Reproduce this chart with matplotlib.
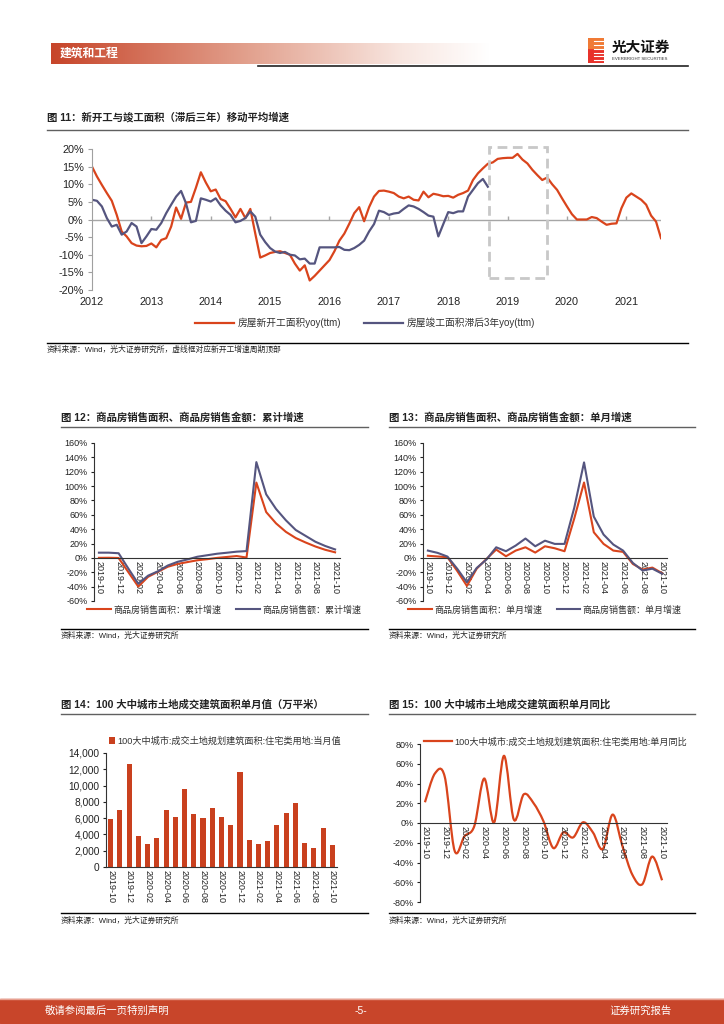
import numpy as np
import matplotlib
matplotlib.use('Agg')
import matplotlib.pyplot as plt
from matplotlib.path import Path
from matplotlib.patches import PathPatch, Rectangle
from matplotlib.lines import Line2D
from matplotlib.colors import LinearSegmentedColormap
from matplotlib.ticker import FuncFormatter

plt.rcParams['font.family'] = ['Liberation Sans', 'Noto Sans CJK SC']
plt.rcParams['axes.unicode_minus'] = False

RED = '#D9441C'
BLUE = '#55557F'
BAR = '#C9401E'

# ---- 图11 data: monthly, 2012-01 .. 2021-08 (new starts), 2012-01 .. 2018-09 (completions lagged 3y)
years = ['2012', '2013', '2014', '2015', '2016', '2017', '2018', '2019', '2020', '2021']
new_start = [15.0, 12.2, 9.8, 7.5, 5.3, 1.3, -3.4, -4.8, -6.7, -7.4, -7.6, -7.5,
             -6.8, -7.9, -5.8, -5.3, -2.0, 3.4, 0.2, 4.8, 5.0, 9.0, 13.4, 10.5,
             8.0, 8.5, 5.8, 5.2, 3.0, 0.6, 3.0, 0.4, 3.0, -4.0, -10.8, -10.2,
             -9.5, -9.2, -9.0, -9.5, -10.0, -12.5, -14.5, -13.0, -17.3, -16.0, -14.5, -13.0,
             -11.5, -9.0, -6.0, -4.0, -1.2, 1.8, 3.5, -0.5, 3.5, 6.5, 8.1, 8.2,
             7.9, 7.5, 6.5, 6.0, 6.5, 5.6, 5.4, 7.9, 6.3, 7.3, 7.0, 6.6,
             6.7, 6.2, 7.0, 7.5, 8.2, 11.2, 13.1, 14.5, 15.8, 16.2, 17.2, 17.4,
             17.5, 17.5, 18.6, 17.0, 15.9, 14.1, 12.6, 11.2, 11.9, 10.0, 8.4, 6.0,
             3.7, 1.5, 0.0, 0.0, 0.0, 0.7, 0.4, -0.6, -1.5, -1.2, -1.1, 3.2,
             6.2, 7.4, 6.5, 5.6, 4.2, 1.1, -0.6, -5.3]
completed_lag3 = [5.6, 5.3, 3.7, 0.4, -2.0, -1.5, -4.3, -3.4, -1.0, -2.0, -6.7, -4.8,
                  -2.7, -2.9, -1.0, 1.8, 4.2, 6.5, 8.1, 4.6, -0.8, -0.4, 6.0, 5.6,
                  5.1, 6.0, 4.0, 2.5, 1.3, -0.8, -0.4, 0.4, 2.3, 0.8, -4.3, -6.4,
                  -8.1, -9.1, -9.5, -9.2, -10.0, -10.2, -11.3, -11.1, -12.5, -12.5, -7.9, -7.9,
                  -7.9, -7.9, -7.8, -8.6, -8.7, -8.1, -7.2, -6.0, -3.4, -1.3, 2.5, 2.1,
                  1.3, 1.7, 1.9, 3.0, 4.0, 3.7, 3.0, 2.1, 1.1, 0.8, -4.8, -1.3,
                  2.1, 1.8, 2.3, 2.3, 6.5, 8.4, 10.3, 11.5, 9.3]
# dashed box: new-start cycle top (month index range, % range)
box_months = [80.3, 91.9]
box_pct = [-16.5, 20.7]

# ---- 图12-15 data: monthly 2019-10 .. 2021-10
months = ['2019-10', '2019-11', '2019-12', '2020-01', '2020-02', '2020-03', '2020-04',
          '2020-05', '2020-06', '2020-07', '2020-08', '2020-09', '2020-10', '2020-11',
          '2020-12', '2021-01', '2021-02', '2021-03', '2021-04', '2021-05', '2021-06',
          '2021-07', '2021-08', '2021-09', '2021-10']
area_cum = [0.1, 0.2, -0.1, -20.0, -39.9, -26.3, -19.3, -12.3, -8.4, -5.8, -3.3, -1.8,
            0.0, 1.3, 2.6, 0.5, 104.9, 63.8, 48.1, 36.3, 27.7, 21.5, 15.9, 11.3, 7.8]
amount_cum = [7.3, 7.3, 6.5, -15.0, -35.9, -24.7, -18.6, -10.6, -5.4, -2.1, 1.6, 3.7,
              5.8, 7.2, 8.7, 9.5, 133.4, 88.5, 68.2, 52.4, 38.9, 30.7, 22.5, 16.6, 11.8]
area_mon = [3.0, 2.0, 1.0, -18.0, -39.0, -15.0, -1.5, 11.6, 2.3, 10.2, 14.8, 7.4,
            16.2, 13.4, 9.3, 55.0, 105.0, 35.7, 19.5, 10.2, 8.4, -8.4, -16.2, -13.5, -21.3]
amount_mon = [10.2, 7.0, 1.9, -15.0, -34.0, -14.0, -2.3, 14.8, 9.3, 17.2, 27.0, 16.2,
              24.0, 19.5, 19.5, 70.0, 133.0, 57.5, 32.5, 18.6, 10.2, -7.0, -17.6, -15.0, -22.0]
land_area = [5950, 6960, 12700, 3850, 2830, 3520, 6960, 6180, 9540, 6510, 5980, 7200,
             6100, 5200, 11700, 3320, 2870, 3150, 5200, 6630, 7860, 2990, 2330, 4790, 2660]
land_yoy = [21, 50, 47, -28, -13.5, -3, 45, 0.5, 68, 3.4, 29, 20, 1.7, -25.4, -9.5,
            -14.6, 0.7, -9.5, -26.4, 8.5, -23.7, -52.5, -62, -34, -58]

W, H = 724, 1024
fig = plt.figure(figsize=(W / 100, H / 100), dpi=100)


def ax_rect(l, t, r, b):
    return fig.add_axes([l / W, 1 - b / H, (r - l) / W, (b - t) / H])


def hline(x0, x1, y, color='black', lw=1.0):
    fig.add_artist(Line2D([x0 / W, x1 / W], [1 - y / H, 1 - y / H], transform=fig.transFigure,
                          color=color, lw=lw))


def ftext(x, y, s, **kw):
    fig.text(x / W, 1 - y / H, s, va='center', **kw)


def smooth_path(x, y):
    # bezier segments like office "smooth line"
    verts = [(x[0], y[0])]
    codes = [Path.MOVETO]
    n = len(x)
    for i in range(n - 1):
        i0 = max(i - 1, 0)
        i3 = min(i + 2, n - 1)
        c1 = (x[i] + (x[i + 1] - x[i0]) / 6, y[i] + (y[i + 1] - y[i0]) / 6)
        c2 = (x[i + 1] - (x[i3] - x[i]) / 6, y[i + 1] - (y[i3] - y[i]) / 6)
        verts += [c1, c2, (x[i + 1], y[i + 1])]
        codes += [Path.CURVE4] * 3
    return Path(verts, codes)


def pct(v, p):
    return '%d%%' % v


# ---- header
cmap = LinearSegmentedColormap.from_list('hdr', [(0, '#C7452A'), (0.45, '#E2A18E'),
                                                 (0.8, '#F8E6E0'), (1, '#FFFFFF')])
axh = ax_rect(51, 43, 490, 64)
axh.imshow(np.linspace(0, 1, 256)[None, :], aspect='auto', cmap=cmap, extent=[0, 1, 0, 1])
axh.axis('off')
ftext(60, 53.5, '建筑和工程', color='white', fontsize=8.5, fontweight='bold')
hline(258, 688, 65.5, color='#222222', lw=1.2)

axl = ax_rect(588, 38, 604, 63)
axl.set_xlim(0, 1)
axl.set_ylim(0, 1)
axl.axis('off')
axl.add_patch(Rectangle((0, 0), 1, 1, color='#E8322B'))
axl.add_patch(Rectangle((0, 0.62), 1, 0.38, color='#F07A35'))
for yy in [0.12, 0.27, 0.42, 0.57, 0.72, 0.87]:
    axl.plot([0.35, 1], [yy, yy], color='white', lw=0.8)
ftext(612, 48, '光大证券', fontsize=10.5, fontweight='bold', color='#111111')
ftext(612, 59, 'EVERBRIGHT SECURITIES', fontsize=3.2, color='#333333')

# ---- 图11
ftext(47, 117, '图 11：新开工与竣工面积（滞后三年）移动平均增速', fontsize=7.5, fontweight='bold', color='#222222')
hline(47, 688, 130, color='#606060', lw=1.0)
ax1 = ax_rect(92, 149, 661, 290)
ax1.plot(np.arange(len(new_start)), new_start, color=RED, lw=1.6, label='房屋新开工面积yoy(ttm)')
ax1.plot(np.arange(len(completed_lag3)), completed_lag3, color=BLUE, lw=1.6, label='房屋竣工面积滞后3年yoy(ttm)')
ax1.set_xlim(0, len(new_start) - 1)
ax1.set_ylim(-20, 20)
ax1.axhline(0, color='#A6A6A6', lw=1.0, zorder=1)
ypos = [12 * i for i in range(len(years))]
ax1.vlines(ypos[1:], 0, 0.9, color='#A6A6A6', lw=1.0, zorder=1)
ax1.set_xticks(ypos)
ax1.set_xticklabels(years)
ax1.tick_params(axis='x', length=0, pad=5, labelsize=7.8, colors='#222222')
ax1.set_yticks(np.arange(-20, 21, 5))
ax1.yaxis.set_major_formatter(FuncFormatter(pct))
ax1.tick_params(axis='y', length=3, width=0.8, color='#A0A0A0', labelsize=7.8, pad=3, labelcolor='#222222')
for s in ['top', 'right', 'bottom']:
    ax1.spines[s].set_visible(False)
ax1.spines['left'].set_color('#A0A0A0')
ax1.add_patch(Rectangle((box_months[0], box_pct[0]), box_months[1] - box_months[0], box_pct[1] - box_pct[0],
                        fill=False, ec='#C8C8C8', lw=2.0, ls=(0, (3.5, 2)), clip_on=False, zorder=3))
ax1.legend(loc='center', bbox_to_anchor=(0.48, -0.234), ncol=2, frameon=False, fontsize=7,
           handlelength=4, handletextpad=0.4, columnspacing=2.4, labelcolor='#333333')
hline(47, 688, 343, lw=1.0)
ftext(47, 350, '资料来源：Wind，光大证券研究所，虚线框对应新开工增速周期顶部', fontsize=5.6, color='#222222')


def month_axes(ax, ylo, yhi, step, lsize=6.5, zero_spine=True):
    if zero_spine:
        ax.spines['bottom'].set_position(('data', 0))
    ax.set_xlim(-0.5, len(months) - 0.5)
    ax.set_ylim(ylo, yhi)
    ax.set_yticks(np.arange(ylo, yhi + 1, step))
    ax.set_xticks(np.arange(0, len(months), 2))
    ax.set_xticklabels(months[::2], rotation=-90, ha='center', va='top')
    ax.tick_params(axis='x', length=0, pad=2.5, labelsize=6.5, colors='#222222')
    ax.tick_params(axis='y', length=2.5, width=0.8, labelsize=lsize, pad=2, colors='#222222')
    ax.spines['top'].set_visible(False)
    ax.spines['right'].set_visible(False)
    ax.spines['left'].set_color('#333333')
    ax.spines['bottom'].set_color('#333333')


# ---- 图12
ftext(61, 418, '图 12：商品房销售面积、商品房销售金额：累计增速', fontsize=7.5, fontweight='bold', color='#222222')
hline(61, 368, 426.5, color='#606060')
ax2 = ax_rect(94, 443, 340, 601)
x = np.arange(len(months))
ax2.plot(x, area_cum, color=RED, lw=1.5, label='商品房销售面积：累计增速')
ax2.plot(x, amount_cum, color=BLUE, lw=1.5, label='商品房销售额：累计增速')
month_axes(ax2, -60, 160, 20)
ax2.yaxis.set_major_formatter(FuncFormatter(pct))
ax2.legend(loc='center', bbox_to_anchor=(0.53, -0.057), ncol=2, frameon=False, fontsize=6.5,
           handlelength=2.6, handletextpad=0.3, columnspacing=1.6, labelcolor='#333333')
hline(61, 368, 629)
ftext(61, 636, '资料来源：Wind，光大证券研究所', fontsize=5.6, color='#222222')

# ---- 图13
ftext(389, 418, '图 13：商品房销售面积、商品房销售金额：单月增速', fontsize=7.5, fontweight='bold', color='#222222')
hline(389, 695, 426.5, color='#606060')
ax3 = ax_rect(423, 443, 667, 601)
ax3.plot(x, area_mon, color=RED, lw=1.5, label='商品房销售面积：单月增速')
ax3.plot(x, amount_mon, color=BLUE, lw=1.5, label='商品房销售额：单月增速')
month_axes(ax3, -60, 160, 20)
ax3.yaxis.set_major_formatter(FuncFormatter(pct))
ax3.legend(loc='center', bbox_to_anchor=(0.5, -0.057), ncol=2, frameon=False, fontsize=6.5,
           handlelength=2.6, handletextpad=0.3, columnspacing=1.6, labelcolor='#333333')
hline(389, 695, 629)
ftext(389, 636, '资料来源：Wind，光大证券研究所', fontsize=5.6, color='#222222')

# ---- 图14
ftext(61, 705, '图 14：100 大中城市土地成交建筑面积单月值（万平米）', fontsize=7.5, fontweight='bold', color='#222222')
hline(61, 368, 713.5, color='#606060')
ax4 = ax_rect(106, 753, 337, 867)
ax4.bar(x, land_area, width=0.55, color=BAR, label='100大中城市:成交土地规划建筑面积:住宅类用地:当月值')
month_axes(ax4, 0, 14000, 2000, lsize=7.3, zero_spine=False)
ax4.yaxis.set_major_formatter(FuncFormatter(lambda v, p: '{:,.0f}'.format(v)))
ax4.legend(loc='center', bbox_to_anchor=(0.515, 1.105), frameon=False, fontsize=6.6,
           handlelength=0.7, handleheight=0.7, handletextpad=0.3, labelcolor='#333333')
hline(61, 368, 913)
ftext(61, 921, '资料来源：Wind，光大证券研究所', fontsize=5.6, color='#222222')

# ---- 图15
ftext(389, 705, '图 15：100 大中城市土地成交建筑面积单月同比', fontsize=7.5, fontweight='bold', color='#222222')
hline(389, 695, 713.5, color='#606060')
ax5 = ax_rect(420, 744, 667, 902)
ax5.add_patch(PathPatch(smooth_path(x, land_yoy), fill=False, ec=RED, lw=1.6))
month_axes(ax5, -80, 80, 20)
ax5.yaxis.set_major_formatter(FuncFormatter(pct))
ax5.legend(handles=[Line2D([], [], color=RED, lw=1.6)],
           labels=['100大中城市:成交土地规划建筑面积:住宅类用地:单月同比'],
           loc='center', bbox_to_anchor=(0.55, 1.013), frameon=False, fontsize=6.6,
           handlelength=3.0, handletextpad=0.3, labelcolor='#333333')
hline(389, 695, 913)
ftext(389, 921, '资料来源：Wind，光大证券研究所', fontsize=5.6, color='#222222')

# ---- footer
fig.add_artist(Rectangle((0, 1 - 1023 / H), 1, 24 / H, transform=fig.transFigure, color='#C8452A'))
hline(0, 724, 998.5, color='#E8A090', lw=1.0)
ftext(45, 1011, '敬请参阅最后一页特别声明', fontsize=7.5, color='white')
ftext(361, 1011, '-5-', fontsize=7.5, color='white', ha='center')
ftext(609, 1011, '证券研究报告', fontsize=7.5, color='white')

fig.savefig('out.png', dpi=100)
